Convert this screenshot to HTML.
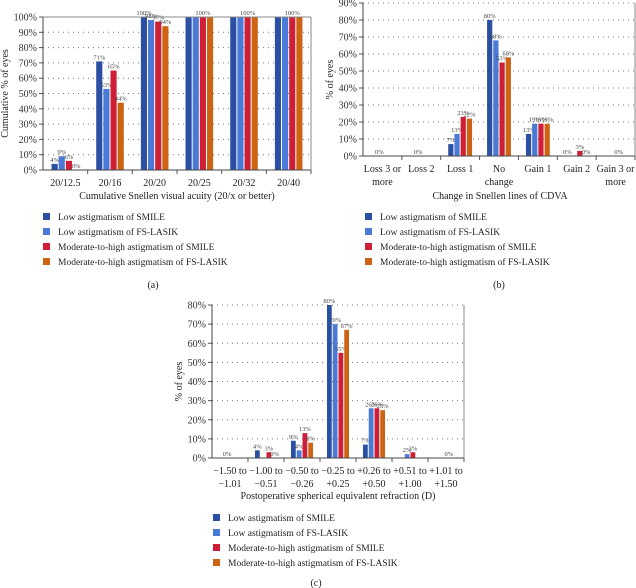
<!DOCTYPE html>
<html><head><meta charset="utf-8"><style>
body{margin:0;background:#fff;width:636px;height:588px;overflow:hidden;font-family:"Liberation Serif",serif;}
svg{position:absolute;left:0;top:0;font-family:"Liberation Serif",serif}
</style></head><body>
<svg id="s" width="636" height="588"></svg>
<script>
const series = ["Low astigmatism of SMILE","Low astigmatism of FS-LASIK","Moderate-to-high astigmatism of SMILE","Moderate-to-high astigmatism of FS-LASIK"];
const colors = ["#2a4fa3","#4a7ad6","#cf1f36","#cc6414"];
const catsA = [["20/12.5"],["20/16"],["20/20"],["20/25"],["20/32"],["20/40"]];
const a1 = [4,71,100,100,100,100];
const a2 = [9,53,98,100,100,100];
const a3 = [6,65,97,100,100,100];
const a4 = [0,44,94,100,100,100];
const ticksA = [0,10,20,30,40,50,60,70,80,90,100];
const catsB = [["Loss 3 or","more"],["Loss 2"],["Loss 1"],["No","change"],["Gain 1"],["Gain 2"],["Gain 3 or","more"]];
const b1 = [0,0,7,80,13,0,0];
const b2 = [0,0,13,68,19,0,0];
const b3 = [0,0,23,55,19,3,0];
const b4 = [0,0,22,58,19,0,0];
const ticksB = [0,10,20,30,40,50,60,70,80,90];
const catsC = [["\u22121.50 to","\u22121.01"],["\u22121.00 to","\u22120.51"],["\u22120.50 to","\u22120.26"],["\u22120.25 to","+0.25"],["+0.26 to","+0.50"],["+0.51 to","+1.00"],["+1.01 to","+1.50"]];
const c1 = [0,4,9,80,7,0,0];
const c2 = [0,0,4,70,26,2,0];
const c3 = [0,3,13,55,26,3,0];
const c4 = [0,0,8,67,25,0,0];
const ticksC = [0,10,20,30,40,50,60,70,80];

const S = document.getElementById('s');
const NS = "http://www.w3.org/2000/svg";
function el(tag, attrs, parent, text){
  const e = document.createElementNS(NS, tag);
  for (const k in attrs) e.setAttribute(k, attrs[k]);
  if (text !== undefined) e.textContent = text;
  (parent||S).appendChild(e);
  return e;
}
function chart(id, cfg){
  const g = el('g', {}, S);
  
  
  const {x0,x1,yTop,yBot,max,ticks,cats,data,xLabY,xTitle,xTitleX,xTitleY,yTitle,yTitleX,showLabels} = cfg;
  const ys = v => yBot - (v/max)*(yBot-yTop);
  const cw = (x1-x0)/cats.length;
  const bw = cw*0.16;
  ticks.forEach(t=>{
    const y = ys(t);
    if (t>0){ const gl = el('line',{x1:x0,x2:x1,y1:y,y2:y,stroke:'#777','stroke-width':1,'stroke-dasharray':'1,4'},g);
        }
    el('line',{x1:x0-4,x2:x0,y1:y,y2:y,stroke:'#555'},g);
    const tl = el('text',{x:x0-6,y:y+3.5,'text-anchor':'end','font-size':10,fill:'#333'},g,t+'%');
     
  });
  cats.forEach((c,i)=>{
    const cx = x0 + cw*(i+0.5);
    data.forEach((arr,si)=>{
      const v = arr[i];
      const bx = cx - 2*bw + si*bw;
      const r = el('rect',{x:bx+0.5,y:ys(v),width:bw-1,height:yBot-ys(v),fill:colors[si]},g);
      
      
      if (showLabels(i,si,v)){
        const lt = el('text',{x:bx+bw/2,y:ys(v)-2,'text-anchor':'middle','font-size':6.5,fill:'#444'},g,v+'%');
         
      }
    });
    el('line',{x1:x0+cw*(i+1),x2:x0+cw*(i+1),y1:yBot,y2:yBot+4,stroke:'#555'},g);
    c.forEach((ln,li)=>{
      const xt = el('text',{x:cx,y:xLabY+li*13,'text-anchor':'middle','font-size':10,fill:'#222'},g,ln);
       
    });
  });
  el('line',{x1:x0,x2:x0,y1:yTop,y2:yBot,stroke:'#444'},g);
  el('line',{x1:x0,x2:x1,y1:yBot,y2:yBot,stroke:'#444'},g);
  el('line',{x1:x1,x2:x1,y1:yTop,y2:yBot,stroke:'#888'},g);
  if (cfg.topLine) el('line',{x1:x0,x2:x1,y1:yTop,y2:yTop,stroke:'#888'},g);
  const xt = el('text',{x:xTitleX,y:xTitleY,'text-anchor':'middle','font-size':10,fill:'#222'},g,xTitle);
   
  const yt = el('text',{x:0,y:0,'text-anchor':'middle','font-size':10,fill:'#222',transform:`translate(${yTitleX},${(yTop+yBot)/2}) rotate(-90)`},g,yTitle);
   
  const lg = el('g',{},S);
  
  
  series.forEach((s,si)=>{
    const y = cfg.legY + si*15;
    el('rect',{x:cfg.legX,y:y-4,width:7,height:7,fill:colors[si]},lg);
    const t = el('text',{x:cfg.legX+15,y:y+3,'font-size':9.5,fill:'#222'},lg,s);
     
  });
  const cap = el('text',{x:cfg.capX,y:cfg.capY,'text-anchor':'middle','font-size':10,fill:'#222'},S,cfg.cap);
   
}
chart('a',{x0:43,x1:311,yTop:17,yBot:170,max:100,ticks:ticksA,cats:catsA,data:[a1,a2,a3,a4],xLabY:186,
  xTitle:'Cumulative Snellen visual acuity (20/x or better)',xTitleX:177,xTitleY:199,yTitle:'Cumulative % of eyes',yTitleX:8,topLine:true,
  showLabels:(i,si,v)=> i<3 ? true : si==2,
  legX:43,legY:217,cap:'(a)',capX:153,capY:288});
chart('b',{x0:363,x1:635,yTop:3,yBot:156,max:90,ticks:ticksB,cats:catsB,data:[b1,b2,b3,b4],xLabY:172,
  xTitle:'Change in Snellen lines of CDVA',xTitleX:500,xTitleY:199,yTitle:'% of eyes',yTitleX:333,
  showLabels:(i,si,v)=> v>0 || (i==0&&si==1)||(i==1&&si==1)||(i==5&&(si==0||si==3))||(i==6&&si==2),
  legX:365,legY:217,cap:'(b)',capX:499,capY:288});
chart('c',{x0:212,x1:464,yTop:305,yBot:458,max:80,ticks:ticksC,cats:catsC,data:[c1,c2,c3,c4],xLabY:474,
  xTitle:'Postoperative spherical equivalent refraction (D)',xTitleX:338,xTitleY:499,yTitle:'% of eyes',yTitleX:182,
  showLabels:(i,si,v)=> v>0 || (i==0&&si==1)||(i==1&&si==3)||(i==6&&si==2),
  legX:213,legY:518,cap:'(c)',capX:316,capY:586});
</script>
</body></html>
